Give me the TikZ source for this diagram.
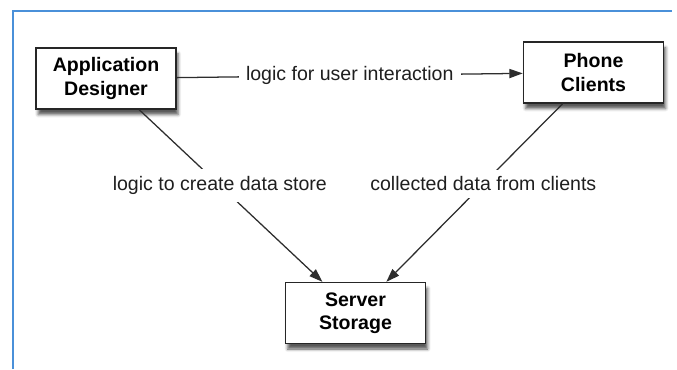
\documentclass[tikz,border=0pt]{standalone}
\usepackage{fontspec}
\setmainfont{Liberation Sans}
\usetikzlibrary{arrows.meta,shadows.blur}
\definecolor{frameblue}{RGB}{74,144,217}
\definecolor{linegray}{RGB}{45,45,45}
\begin{document}
\begin{tikzpicture}[x=0.025cm,y=-0.025cm,
    actor/.style={draw=black!85,line width=1.1pt,fill=white,
      minimum width=3.5cm,minimum height=1.52cm,align=center,
      font=\fontsize{13.9}{16.5}\selectfont\bfseries,
      blur shadow={shadow xshift=1.5pt,shadow yshift=-4pt,shadow opacity=65}},
    flow/.style={draw=linegray,line width=0.9pt,-{Triangle[length=9.5pt,width=6.5pt]}},
    flowlabel/.style={fill=white,text=black!88,inner sep=5pt,
      font=\fontsize{13.9}{16.3}\selectfont}]
  \useasboundingbox (0,0) rectangle (677,369);
  \draw [frameblue,line width=1.4pt] (13,369) -- (13,11) -- (672,11);
  \node [actor] (designer) at (106,78.5) {Application\\Designer};
  \node [actor] (phones) at (593.5,72.5) {Phone\\Clients};
  \node [actor] (server) at (355.5,313) {Server\\Storage};
  \draw [flow] (designer) -- node [flowlabel,pos=.5] {logic for user interaction} (phones);
  \draw [flow] (designer) -- node [flowlabel,pos=.44] {logic to create data store} (server);
  \draw [flow] (phones) -- node [flowlabel,pos=.45] {collected data from clients} (server);
\end{tikzpicture}
\end{document}
